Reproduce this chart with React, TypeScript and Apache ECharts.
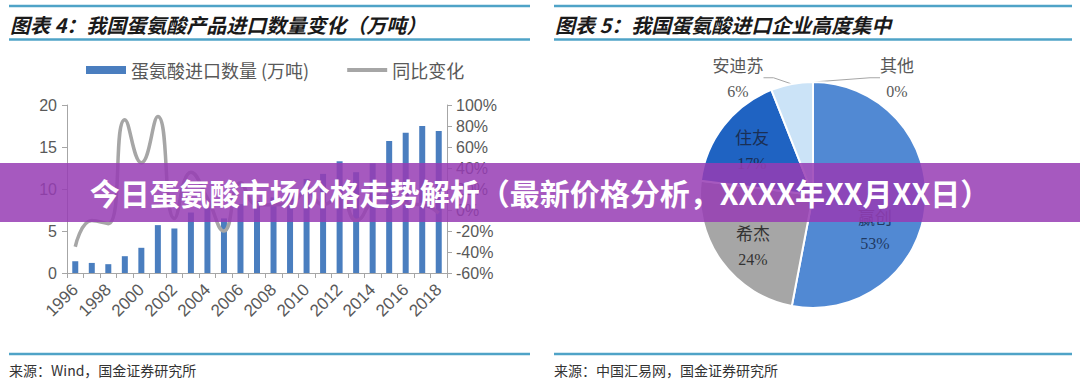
import React, { useEffect, useRef } from 'react';
import * as echarts from 'echarts';

const years = ['1996','1997','1998','1999','2000','2001','2002','2003','2004','2005','2006','2007','2008','2009','2010','2011','2012','2013','2014','2015','2016','2017','2018'];
const importVolume = [1.4, 1.2, 1.05, 2.0, 3.0, 5.7, 5.3, 7.2, 8.0, 6.5, 8.2, 8.6, 9.0, 9.5, 11.2, 11.8, 13.3, 12.0, 13.05, 15.7, 16.7, 17.5, 16.9];
const yoyChange = [-35, -10, -13, 86, 45, 89, -8, 36, 11, -20, 26, 5, 5, 6, 18, 5, 13, -10, 9, 20, 6, 5, -3];

const barName = '蛋氨酸进口数量 (万吨)';
const lineName = '同比变化';

const pieNames = ['赢创', '希杰', '住友', '安迪苏', '其他'];
const pieValues = [53, 24, 17, 6, 0];
const pieColors = ['#5189d3', '#a6a6a6', '#1f63c2', '#cbe3f7', '#7fa9dc'];

const leftTitle = '图表 4：我国蛋氨酸产品进口数量变化（万吨）';
const rightTitle = '图表 5：我国蛋氨酸进口企业高度集中';
const leftSource = '来源：Wind，国金证券研究所';
const rightSource = '来源：中国汇易网，国金证券研究所';
const bannerText = '今日蛋氨酸市场价格走势解析（最新价格分析，XXXX年XX月XX日）';

const CJK = '"Noto Sans CJK SC", "Noto Sans", sans-serif';
const LAT = '"Liberation Sans", Arial, sans-serif';
const SERIF = '"Liberation Serif", "Times New Roman", serif';
const RULE = '#4fa3c7';

function hline(x1: number, x2: number, y: number) {
  return { type: 'line', shape: { x1, y1: y, x2, y2: y }, style: { stroke: RULE, lineWidth: 2.5 }, z: 10 };
}
function txt(x: number, y: number, text: string, extra: any) {
  return {
    type: 'text', x, y, z: 10,
    style: { text, align: 'left', verticalAlign: 'middle', textAlign: 'left', textVerticalAlign: 'middle', ...extra },
  };
}

const labelSpots: Record<number, [number, number]> = {
  0: [875, 230],
  1: [753, 246],
  2: [752, 150],
  3: [738, 78],
  4: [897, 78],
};

export default function App() {
  const ref = useRef<HTMLDivElement>(null);
  useEffect(() => {
    const chart = echarts.init(ref.current!, undefined, { renderer: 'svg' });
    const insideColor = ['#1f3a63', '#333333', '#1a2f55'];
    chart.setOption({
      animation: false,
      backgroundColor: '#ffffff',
      legend: {
        left: 81,
        top: 56,
        itemWidth: 40,
        itemHeight: 8,
        itemGap: 38,
        textStyle: { fontSize: 18, color: '#595959', fontFamily: CJK },
        data: [
          { name: barName, icon: 'rect' },
          { name: lineName, icon: 'path://M0,0L40,0L40,4L0,4Z', itemStyle: { color: '#a6a6a6' } },
        ],
      },
      grid: { left: 67, right: 633, top: 105, bottom: 113, containLabel: false },
      xAxis: {
        type: 'category',
        data: years,
        axisLine: { lineStyle: { color: '#a6a6a6', width: 1 } },
        axisTick: { show: true, interval: 0, length: 5, lineStyle: { color: '#a6a6a6' } },
        axisLabel: { interval: 1, rotate: 45, fontSize: 17, color: '#595959', fontFamily: LAT, margin: 14 },
      },
      yAxis: [
        {
          type: 'value', min: 0, max: 20, interval: 5,
          axisLine: { show: true, lineStyle: { color: '#a6a6a6' } },
          axisTick: { show: true, length: 5, lineStyle: { color: '#a6a6a6' } },
          splitLine: { show: false },
          axisLabel: { fontSize: 16, color: '#595959', fontFamily: LAT, margin: 10 },
        },
        {
          type: 'value', min: -60, max: 100, interval: 20,
          axisLine: { show: true, lineStyle: { color: '#a6a6a6' } },
          axisTick: { show: true, length: 5, lineStyle: { color: '#a6a6a6' } },
          splitLine: { show: false },
          axisLabel: { fontSize: 16, color: '#595959', fontFamily: LAT, margin: 9, formatter: '{value}%' },
        },
      ],
      series: [
        {
          name: barName, type: 'bar', data: importVolume, barWidth: 6,
          itemStyle: { color: '#4a7ebf' },
        },
        {
          name: lineName, type: 'line', yAxisIndex: 1, data: yoyChange, smooth: true,
          symbol: 'none', lineStyle: { color: '#a6a6a6', width: 3.5 }, itemStyle: { color: '#a6a6a6' },
        },
        {
          name: 'pie', type: 'pie', center: [813, 195], radius: 113,
          startAngle: 90, clockwise: true,
          itemStyle: { borderColor: '#ffffff', borderWidth: 2 },
          data: pieNames.map((n, i) => {
            const inside = i < 3;
            return {
              name: n,
              value: pieValues[i],
              itemStyle: { color: pieColors[i] },
              label: {
                show: true,
                position: inside ? 'inside' : 'outside',
                formatter: '{n|{b}}\n{p|{d}%}',
                align: 'center',
                rich: {
                  n: { fontSize: 17, fontFamily: CJK, color: inside ? insideColor[i] : '#595959', lineHeight: 27, align: 'center' },
                  p: { fontSize: 16, fontFamily: SERIF, color: inside ? insideColor[i] : '#595959', lineHeight: 27, align: 'center' },
                },
              },
              labelLine: { show: !inside, length: 12, length2: 10, lineStyle: { color: '#a6a6a6', width: 1 } },
            };
          }),
          labelLayout: (params: any) => {
            const s = labelSpots[params.dataIndex];
            if (!s) return {};
            return { x: s[0], y: s[1], align: 'center', verticalAlign: 'middle' };
          },
        },
      ],
      graphic: [
        hline(9, 530, 6),
        hline(9, 530, 39.5),
        hline(9, 530, 354),
        hline(554, 1072, 6),
        hline(554, 1072, 39.5),
        hline(554, 1072, 354),
        txt(10, 24, leftTitle, { fill: '#1a1a1a', fontSize: 20, fontFamily: CJK, fontWeight: 'bold', fontStyle: 'italic' }),
        txt(555, 24, rightTitle, { fill: '#1a1a1a', fontSize: 20, fontFamily: CJK, fontWeight: 'bold', fontStyle: 'italic' }),
        txt(9, 370, leftSource, { fill: '#333333', fontSize: 14, fontFamily: CJK }),
        txt(554, 370, rightSource, { fill: '#333333', fontSize: 14, fontFamily: CJK }),
        {
          type: 'rect', z: 100,
          shape: { x: 0, y: 163, width: 1080, height: 59 },
          style: { fill: 'rgba(150,60,180,0.85)' },
        },
        {
          type: 'text', z: 101, x: 540, y: 192,
          style: {
            text: bannerText, fill: '#ffffff', fontSize: 30, fontWeight: 'bold', fontFamily: CJK,
            align: 'center', verticalAlign: 'middle', textAlign: 'center', textVerticalAlign: 'middle',
          },
        },
      ],
    });
    return () => chart.dispose();
  }, []);
  return (
    <div
      ref={ref}
      style={{ position: 'fixed', left: 0, top: 0, width: 1080, height: 386, background: '#ffffff' }}
    />
  );
}
